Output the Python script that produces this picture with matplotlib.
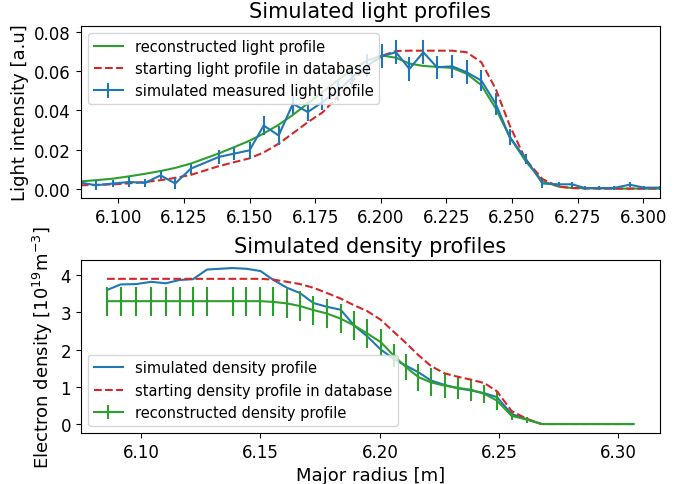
import matplotlib
matplotlib.use('Agg')
import matplotlib.pyplot as plt

# Major radius grid [m] (one sample missing near 6.133)
R = [6.0857, 6.0914, 6.0980, 6.1042, 6.1103, 6.1161, 6.1217, 6.1276, 6.1383, 6.1441,
     6.1500, 6.1554, 6.1611, 6.1665, 6.1722, 6.1778, 6.1836, 6.1892, 6.1948, 6.2004,
     6.2058, 6.2109, 6.2162, 6.2214, 6.2272, 6.2327, 6.2383, 6.2438, 6.2491, 6.2552,
     6.2616, 6.2678, 6.2729, 6.2777, 6.2830, 6.2887, 6.2948, 6.3004, 6.3063]

## Light profiles [a.u]
light_meas = [0.0031, 0.0017, 0.0026, 0.0034, 0.0029, 0.0068, 0.0026, 0.0102, 0.0162, 0.0179,
              0.0196, 0.0323, 0.0272, 0.0434, 0.0392, 0.0443, 0.0500, 0.0570, 0.0630, 0.0678,
              0.0698, 0.0613, 0.0698, 0.0621, 0.0626, 0.0596, 0.0553, 0.0434, 0.0264, 0.0153,
              0.0026, 0.0022, 0.0022, 0.0003, 0.0003, 0.0003, 0.0020, 0.0005, 0.0005]
light_err = [0.0020, 0.0026, 0.0020, 0.0026, 0.0020, 0.0020, 0.0026, 0.0026, 0.0038, 0.0034,
             0.0043, 0.0047, 0.0051, 0.0051, 0.0047, 0.0043, 0.0050, 0.0055, 0.0058, 0.0062,
             0.0062, 0.0062, 0.0062, 0.0060, 0.0060, 0.0060, 0.0055, 0.0055, 0.0043, 0.0025,
             0.0021, 0.0013, 0.0013, 0.0010, 0.0010, 0.0010, 0.0012, 0.0010, 0.0010]
light_recon = [0.0037, 0.0043, 0.0051, 0.0063, 0.0076, 0.0090, 0.0106, 0.0128, 0.0180, 0.0212,
               0.0245, 0.0282, 0.0327, 0.0377, 0.0436, 0.0495, 0.0555, 0.0610, 0.0655, 0.0681,
               0.0670, 0.0640, 0.0628, 0.0623, 0.0618, 0.0588, 0.0530, 0.0410, 0.0265, 0.0140,
               0.0038, 0.0010, 0.0003, 0.0002, 0.0001, 0.0, 0.0, 0.0, 0.0]
light_start = [0.0017, 0.0019, 0.0022, 0.0027, 0.0034, 0.0043, 0.0055, 0.0070, 0.0115, 0.0135,
               0.0155, 0.0185, 0.0230, 0.0283, 0.0340, 0.0390, 0.0470, 0.0550, 0.0625, 0.0680,
               0.0704, 0.0706, 0.0706, 0.0706, 0.0706, 0.0698, 0.0647, 0.0510, 0.0324, 0.0148,
               0.0049, 0.0010, 0.0003, 0.0001, 0.0, 0.0, 0.0, 0.0, 0.0]

## Density profiles [1e19 m^-3]
dens_sim = [3.60, 3.75, 3.76, 3.82, 3.78, 3.87, 3.89, 4.15, 4.19, 4.17,
            4.11, 3.87, 3.66, 3.52, 3.25, 3.15, 3.07, 2.65, 2.35, 2.00,
            1.75, 1.57, 1.39, 1.17, 1.05, 0.96, 0.90, 0.83, 0.72, 0.27,
            0.13, 0.0, 0.0, 0.0, 0.0, 0.0, 0.0, 0.0, 0.0]
dens_recon = [3.30, 3.30, 3.30, 3.30, 3.30, 3.30, 3.30, 3.30, 3.30, 3.30,
              3.30, 3.28, 3.24, 3.17, 3.06, 2.97, 2.83, 2.65, 2.43, 2.20,
              1.84, 1.53, 1.26, 1.12, 1.03, 0.97, 0.92, 0.81, 0.63, 0.22,
              0.12, 0.0, 0.0, 0.0, 0.0, 0.0, 0.0, 0.0, 0.0]
dens_err = [0.39, 0.39, 0.39, 0.39, 0.39, 0.39, 0.39, 0.39, 0.39, 0.39,
            0.39, 0.39, 0.39, 0.39, 0.39, 0.39, 0.39, 0.39, 0.39, 0.36,
            0.30, 0.36, 0.36, 0.38, 0.34, 0.31, 0.29, 0.25, 0.26, 0.12,
            0.08, 0.03, 0.0, 0.0, 0.0, 0.0, 0.0, 0.0, 0.0]
dens_start = [3.90, 3.90, 3.90, 3.90, 3.90, 3.90, 3.90, 3.90, 3.90, 3.90,
              3.90, 3.88, 3.82, 3.76, 3.66, 3.52, 3.37, 3.19, 3.03, 2.80,
              2.48, 2.18, 1.85, 1.56, 1.36, 1.27, 1.19, 1.10, 0.88, 0.35,
              0.14, 0.0, 0.0, 0.0, 0.0, 0.0, 0.0, 0.0, 0.0]

fig, (ax1, ax2) = plt.subplots(2, 1, figsize=(6.96, 4.85), dpi=100)
fig.subplots_adjust(left=0.116, right=0.948, top=0.945, bottom=0.105, hspace=0.359)

# Light profiles
ax1.plot(R, light_recon, color='tab:green', label='reconstructed light profile')
ax1.plot(R, light_start, '--', color='tab:red', label='starting light profile in database')
ax1.errorbar(R, light_meas, yerr=light_err, color='tab:blue',
             label='simulated measured light profile')
ax1.set_xlim(R[0], R[-1])
ax1.set_ylim(-0.005, 0.0834)
ax1.set_xticks([6.100, 6.125, 6.150, 6.175, 6.200, 6.225, 6.250, 6.275, 6.300])
ax1.set_yticks([0.00, 0.02, 0.04, 0.06, 0.08])
ax1.set_ylabel('Light intensity [a.u]', fontsize=13)
ax1.set_title('Simulated light profiles', fontsize=15)
ax1.tick_params(labelsize=12)
ax1.legend(loc='upper left', fontsize=10.5)

# Density profiles
ax2.plot(R, dens_sim, color='tab:blue', label='simulated density profile')
ax2.errorbar(R, dens_recon, yerr=dens_err, color='tab:green',
             label='reconstructed density profile')
ax2.plot(R, dens_start, '--', color='tab:red', label='starting density profile in database')
ax2.set_ylim(-0.243, 4.396)
ax2.set_xticks([6.10, 6.15, 6.20, 6.25, 6.30])
ax2.set_yticks([0, 1, 2, 3, 4])
ax2.set_xlabel('Major radius [m]', fontsize=13)
ax2.set_ylabel(r'Electron density [$10^{19}$m$^{-3}$]', fontsize=13)
ax2.set_title('Simulated density profiles', fontsize=15)
ax2.tick_params(labelsize=12)
h, l = ax2.get_legend_handles_labels()
order = [l.index('simulated density profile'),
         l.index('starting density profile in database'),
         l.index('reconstructed density profile')]
ax2.legend([h[i] for i in order], [l[i] for i in order], loc='lower left', fontsize=10.5)

fig.savefig('out.png', dpi=100)
